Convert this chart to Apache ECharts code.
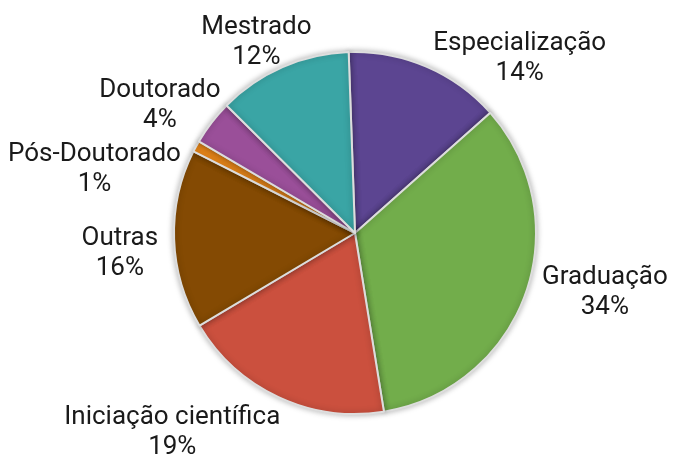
<!DOCTYPE html>
<html>
<head>
<meta charset="utf-8">
<script src="https://cdn.jsdelivr.net/npm/echarts@6/dist/echarts.min.js"></script>
<style>
  html, body { margin: 0; padding: 0; background: #fff; }
  #main { width: 676px; height: 456px; }
</style>
</head>
<body>
<div id="main"></div>
<script>
var categories = ['Especialização', 'Graduação', 'Iniciação científica', 'Outras', 'Pós-Doutorado', 'Doutorado', 'Mestrado'];
var shares = [14, 34, 19, 16, 1, 4, 12];
var colors = ['#5c4591', '#72ad4b', '#cb503e', '#844a03', '#e8861a', '#9a4f99', '#3aa5a5'];

// small nudges so the labels sit where the original put them
var labelShift = [[-2, 1], [2, -5], [11, 26], [-6, 14], [8, -5], [18, -11], [38, -15]];

var chart = echarts.init(document.getElementById('main'));
chart.setOption({
    animation: false,
    series: [
        {
            type: 'pie',
            center: [355, 233],
            radius: 181,
            startAngle: 92,
            clockwise: true,
            avoidLabelOverlap: true,
            data: categories.map(function (name, i) {
                return { name: name, value: shares[i], itemStyle: { color: colors[i] } };
            }),
            itemStyle: {
                borderColor: '#dddddd',
                borderWidth: 2,
                shadowBlur: 6,
                shadowColor: 'rgba(0,0,0,0.3)'
            },
            label: {
                position: 'outside',
                overflow: 'none',
                bleedMargin: 0,
                formatter: '{t|{b}}\n{t|{c}%}',
                rich: {
                    t: {
                        align: 'center',
                        fontFamily: 'Roboto',
                        fontSize: 26,
                        lineHeight: 30,
                        color: '#1a1a1a'
                    }
                }
            },
            labelLine: { show: false, length: 10, length2: 0 },
            labelLayout: function (params) {
                var s = labelShift[params.dataIndex];
                return { dx: s[0], dy: s[1] };
            }
        }
    ]
});
</script>
</body>
</html>
